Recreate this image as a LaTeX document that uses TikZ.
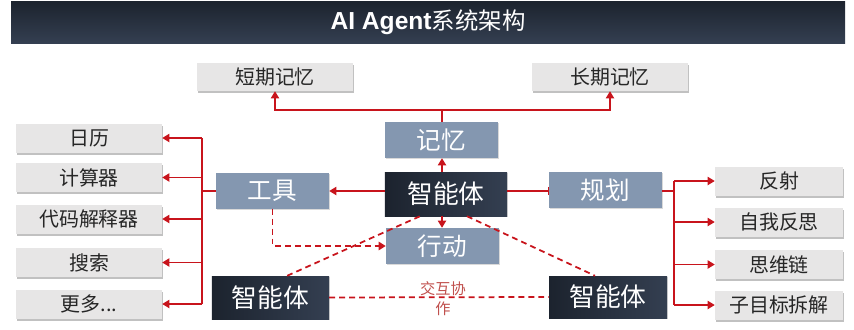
\documentclass[tikz,border=0pt]{standalone}
\usepackage{fontspec}
\usepackage{tikz}
\usetikzlibrary{arrows.meta, shadows}
\setmainfont{Noto Sans CJK SC}
\newfontfamily\titlelatin{Liberation Sans}
\definecolor{boxgray}{RGB}{231, 230, 230}
\definecolor{slate}{RGB}{132, 151, 176}
\definecolor{navydark}{RGB}{28, 35, 46}
\definecolor{navymid}{RGB}{52, 63, 81}
\definecolor{linered}{RGB}{200, 20, 28}
\definecolor{labelred}{RGB}{192, 80, 77}

\begin{document}
\begin{tikzpicture}[x=0.03cm, y=-0.03cm,
  graybox/.style={fill=boxgray, text=black!85, inner sep=0pt,
    font=\fontsize{17}{20}\selectfont,
    drop shadow={shadow xshift=0.5pt, shadow yshift=-1.8pt, opacity=0.35, fill=black!70}},
  slatebox/.style={fill=slate, text=white, inner sep=0pt,
    minimum width=3.39cm, minimum height=1.08cm,
    font=\fontsize{21}{24}\selectfont,
    drop shadow={shadow xshift=0.5pt, shadow yshift=-1.2pt, opacity=0.25, fill=black!60}},
  agentbox/.style={left color=navydark, right color=navymid, text=white, inner sep=0pt,
    font=\fontsize{22}{25}\selectfont,
    drop shadow={shadow xshift=0.5pt, shadow yshift=-1.2pt, opacity=0.25, fill=black!60}},
  link/.style={draw=linered, line width=1pt},
  tip/.style={-{Triangle[width=7pt, length=6pt]}},
  dashlink/.style={draw=linered, line width=1.5pt, dash pattern=on 5pt off 3.5pt},
]

  \useasboundingbox (0, 0) rectangle (854, 329);

  % title bar
  \shade[top color=navydark, bottom color=navymid] (11, 1) rectangle (845, 43);
  \node[text=white] (title) at (428, 22)
    {{\titlelatin\bfseries\fontsize{21}{24}\selectfont AI Agent}{\fontsize{20}{24}\selectfont 系统架构}};

  % memory
  \node[graybox, minimum width=4.68cm, minimum height=0.84cm] (stm) at (275, 77) {短期记忆};
  \node[graybox, minimum width=4.68cm, minimum height=0.84cm] (ltm) at (610, 77) {长期记忆};
  \node[slatebox] (mem) at (441.5, 140) {记忆};

  % core
  \node[agentbox, minimum width=3.66cm, minimum height=1.32cm] (agent) at (446, 194) {智能体};
  \node[slatebox] (tool) at (272.5, 190.5) {工具};
  \node[slatebox] (plan) at (605.5, 190) {规划};
  \node[slatebox] (act) at (442.5, 246) {行动};

  % other agents
  \node[agentbox, minimum width=3.51cm, minimum height=1.29cm] (agentl) at (270.5, 297.5) {智能体};
  \node[agentbox, minimum width=3.54cm, minimum height=1.26cm] (agentr) at (608, 297) {智能体};

  % tool list
  \node[graybox, minimum width=4.38cm, minimum height=0.87cm] (cal) at (89, 138) {日历};
  \node[graybox, minimum width=4.38cm, minimum height=0.87cm] (calc) at (89, 177.5) {计算器};
  \node[graybox, minimum width=4.38cm, minimum height=0.87cm] (code) at (89, 219) {代码解释器};
  \node[graybox, minimum width=4.38cm, minimum height=0.87cm] (search) at (89, 262.5) {搜索};
  \node[graybox, minimum width=4.38cm, minimum height=0.87cm] (more) at (89, 304) {更多...};

  % planning list
  \node[graybox, minimum width=3.84cm, minimum height=0.87cm] (refl) at (779, 181) {反射};
  \node[graybox, minimum width=3.84cm, minimum height=0.87cm] (selfrefl) at (779, 222) {自我反思};
  \node[graybox, minimum width=3.84cm, minimum height=0.87cm] (cot) at (779, 264.5) {思维链};
  \node[graybox, minimum width=3.84cm, minimum height=0.87cm] (subgoal) at (779, 305) {子目标拆解};

  \coordinate (memjoin) at (442, 110);
  \coordinate (tooljoin) at (202, 191);
  \coordinate (planjoin) at (674, 191);

  % solid links
  \draw[link] (mem.north -| memjoin) -- (memjoin);
  \draw[link, tip] (memjoin) -| (stm.south);
  \draw[link, tip] (memjoin) -| (ltm.south);
  \draw[link, tip] (agent.north -| memjoin) -- (mem.south -| memjoin);
  \draw[link, tip] (agent.south -| memjoin) -- (act.north -| memjoin);
  \draw[link, tip] (agent.west |- tooljoin) -- (tool.east |- tooljoin);
  \draw[link, -{Bar[width=7pt]}] (agent.east |- planjoin) -- (plan.west |- planjoin);

  \draw[link] (tool.west |- tooljoin) -- (tooljoin);
  \draw[link] (tooljoin |- cal) -- (tooljoin |- more);
  \foreach \item in {cal, calc, code, search, more}
    \draw[link, tip] (tooljoin |- \item) -- (\item.east);

  \draw[link] (plan.east |- planjoin) -- (planjoin);
  \draw[link] (planjoin |- refl) -- (planjoin |- subgoal);
  \foreach \item in {refl, selfrefl, cot, subgoal}
    \draw[link, tip] (planjoin |- \item) -- (\item.west);

  % dashed links
  \draw[dashlink, tip] (tool.south) |- (act.west);
  \draw[dashlink] (agentl.east) -- (agentr.west);
  \draw[dashlink] ([xshift=0.5cm]agentl.north) -- ([xshift=-0.78cm]agent.south);
  \draw[dashlink] ([xshift=0.63cm]agent.south) -- ([xshift=-0.39cm]agentr.north);

  \node[text=labelred, font=\fontsize{13}{17}\selectfont, align=center] (coop) at (443, 299)
    {交互协\\作};

\end{tikzpicture}
\end{document}
